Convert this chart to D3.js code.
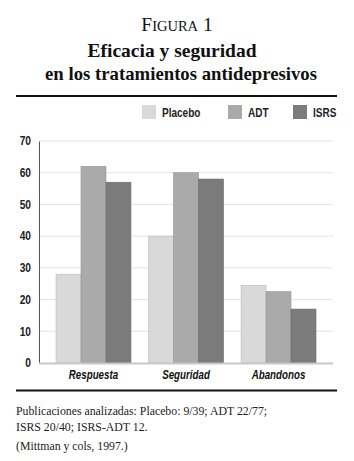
<!DOCTYPE html>
<html>
<head>
<meta charset="utf-8">
<script src="https://cdn.jsdelivr.net/npm/d3@7"></script>
<style>
  body { margin: 0; background: #ffffff; }
  svg { display: block; }
</style>
</head>
<body>
<div id="chart"></div>
<script>
// categories, series and ticks
const categories = ["Respuesta", "Seguridad", "Abandonos"];
const series = ["Placebo", "ADT", "ISRS"];
const placebo = [28, 40, 24.5];
const adt = [62, 60, 22.5];
const isrs = [57, 58, 17];
const yTicks = [0, 10, 20, 30, 40, 50, 60, 70];
const colors = ["#d9d9d9", "#aaaaaa", "#7b7b7b"];

const footLines = [
  "Publicaciones analizadas: Placebo: 9/39; ADT 22/77;",
  "ISRS 20/40; ISRS-ADT 12.",
  "(Mittman y cols, 1997.)"
];

const width = 354, height = 461;
const serif = "'Liberation Serif', 'Times New Roman', serif";
const sans = "'Liberation Sans', Arial, sans-serif";

// squeeze a text horizontally so it looks like a condensed face
function condense(sel, k) {
  sel.each(function () {
    const w = this.getComputedTextLength();
    d3.select(this).attr("textLength", w * k).attr("lengthAdjust", "spacingAndGlyphs");
  });
}

const svg = d3.select("#chart").append("svg")
    .attr("width", width)
    .attr("height", height);

// heading
const fig = svg.append("text")
    .attr("x", 177).attr("y", 30.5)
    .attr("text-anchor", "middle")
    .style("font-family", serif)
    .style("fill", "#111");
fig.append("tspan").style("font-size", "19.5px").text("F");
fig.append("tspan").style("font-size", "14.5px").text("IGURA");
fig.append("tspan").style("font-size", "19.5px").text(" 1");

svg.append("text")
    .attr("x", 172).attr("y", 57)
    .attr("text-anchor", "middle")
    .style("font-family", serif)
    .style("font-weight", "bold")
    .style("font-size", "19.5px")
    .style("fill", "#111")
    .text("Eficacia y seguridad");

svg.append("text")
    .attr("x", 181).attr("y", 80)
    .attr("text-anchor", "middle")
    .attr("textLength", 272)
    .attr("lengthAdjust", "spacingAndGlyphs")
    .style("font-family", serif)
    .style("font-weight", "bold")
    .style("font-size", "19.5px")
    .style("fill", "#111")
    .text("en los tratamientos antidepresivos");

// rules
svg.append("line").attr("x1", 16).attr("x2", 337).attr("y1", 96).attr("y2", 96)
    .attr("stroke", "#111").attr("stroke-width", 2.2);
svg.append("line").attr("x1", 16).attr("x2", 337).attr("y1", 390.5).attr("y2", 390.5)
    .attr("stroke", "#111").attr("stroke-width", 2.2);

// legend
const legendX = [142, 228, 293];
const legend = svg.append("g").selectAll("g")
    .data(series)
    .enter().append("g")
    .attr("transform", (d, i) => "translate(" + legendX[i] + ",105)");
legend.append("rect")
    .attr("width", 14).attr("height", 14)
    .attr("fill", (d, i) => colors[i]);
legend.append("text")
    .attr("x", 20).attr("y", 11.5)
    .style("font-family", sans)
    .style("font-weight", "bold")
    .style("font-size", "12.5px")
    .style("fill", "#222")
    .text(d => d)
    .call(condense, 0.8);

// scales
const x = d3.scaleBand()
    .domain(categories)
    .range([39, 333])
    .paddingInner(0.19)
    .paddingOuter(0.184);

const xSub = d3.scaleBand()
    .domain(series)
    .range([0, x.bandwidth()])
    .padding(0);

const y = d3.scaleLinear()
    .domain([0, 70])
    .range([363, 141]);

// gridlines
svg.append("g")
    .selectAll("line")
    .data(yTicks.filter(t => t > 0))
    .enter().append("line")
    .attr("x1", 40).attr("x2", 333)
    .attr("y1", d => y(d)).attr("y2", d => y(d))
    .attr("stroke", "#e4e4e4").attr("stroke-width", 1);

// y axis
const yAxis = svg.append("g")
    .attr("transform", "translate(39,0)")
    .call(d3.axisLeft(y).tickValues(yTicks).tickSize(0).tickPadding(8));
yAxis.select(".domain").attr("stroke", "#555").attr("stroke-width", 1);
yAxis.selectAll("text")
    .style("font-family", sans)
    .style("font-weight", "bold")
    .style("font-size", "12px")
    .style("fill", "#222")
    .call(condense, 0.85);

// bars
const rows = categories.map((c, i) => ({ cat: c, vals: [placebo[i], adt[i], isrs[i]] }));
svg.append("g")
    .selectAll("g")
    .data(rows)
    .enter().append("g")
    .attr("transform", d => "translate(" + x(d.cat) + ",0)")
    .selectAll("rect")
    .data(d => series.map((s, j) => ({ key: s, value: d.vals[j], idx: j })))
    .enter().append("rect")
    .attr("x", d => xSub(d.key))
    .attr("width", xSub.bandwidth())
    .attr("y", d => y(d.value))
    .attr("height", d => y(0) - y(d.value))
    .attr("fill", d => colors[d.idx])
    .attr("stroke", d => d3.color(colors[d.idx]).darker(0.4))
    .attr("stroke-width", 0.6);

// x baseline
svg.append("line")
    .attr("x1", 39).attr("x2", 333)
    .attr("y1", 363.5).attr("y2", 363.5)
    .attr("stroke", "#c8c8c8").attr("stroke-width", 2);

// category labels
svg.append("g")
    .selectAll("text")
    .data(categories)
    .enter().append("text")
    .attr("x", d => x(d) + x.bandwidth() / 2)
    .attr("y", 378.5)
    .attr("text-anchor", "middle")
    .style("font-family", sans)
    .style("font-weight", "bold")
    .style("font-style", "italic")
    .style("font-size", "12.5px")
    .style("fill", "#111")
    .text(d => d)
    .call(condense, 0.78);

// footnote
svg.append("g")
    .selectAll("text")
    .data(footLines)
    .enter().append("text")
    .attr("x", 16)
    .attr("y", (d, i) => [415, 431, 450][i])
    .style("font-family", serif)
    .style("font-size", "11.8px")
    .style("fill", "#222")
    .text(d => d);
</script>
</body>
</html>
